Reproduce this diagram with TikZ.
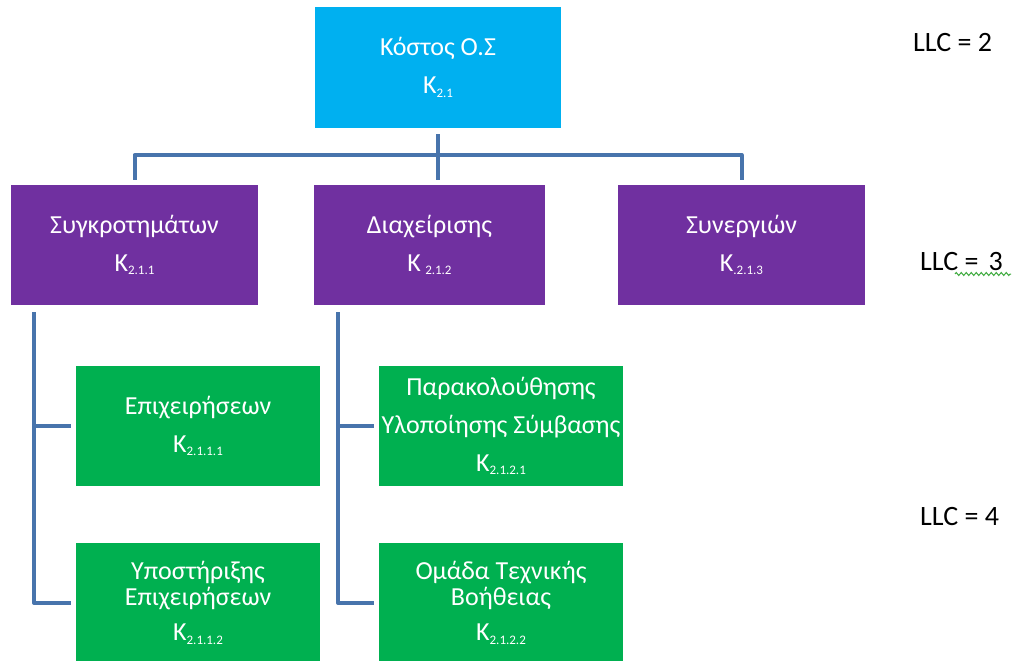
\documentclass[tikz,border=0pt]{standalone}
\usepackage{fontspec}
\setmainfont{Carlito}
\usetikzlibrary{decorations.pathmorphing}
\definecolor{topblue}{HTML}{00B0F0}
\definecolor{levpurple}{HTML}{7030A0}
\definecolor{levgreen}{HTML}{00B050}
\definecolor{linkblue}{HTML}{4874AC}
\definecolor{squiggle}{HTML}{3DAA3D}
% code with a small subscripted index
\newcommand{\Kcode}[1]{K\raisebox{-0.3ex}{\fontsize{13}{13}\selectfont #1}}
\begin{document}
\begin{tikzpicture}[x=1pt,y=-1pt,
  box/.style={rectangle, inner sep=0pt, minimum height=120pt, text=white,
    align=center, font=\fontsize{26}{38}\selectfont},
  topbox/.style={box, fill=topblue, minimum width=246pt, minimum height=121pt},
  midbox/.style={box, fill=levpurple},
  leafbox/.style={box, fill=levgreen, minimum width=244pt},
  tightbox/.style={leafbox, font=\fontsize{26}{26}\selectfont},
  conn/.style={draw=linkblue, line width=4pt, line join=round},
  level/.style={font=\fontsize{28}{30}\selectfont, text=black, inner sep=0pt}]
\useasboundingbox (0,0) rectangle (1015,661);
\clip (0,0) rectangle (1015,661);

% boxes
\node[topbox] (t) at (438,67.5) {Κόστος Ο.Σ\\\Kcode{2.1}};
\node[midbox, minimum width=247pt] (p1) at (134.5,245) {Συγκροτημάτων\\\Kcode{2.1.1}};
\node[midbox, minimum width=231pt] (p2) at (429.5,245) {Διαχείρισης\\K\,\raisebox{-0.3ex}{\fontsize{13}{13}\selectfont 2.1.2}};
\node[midbox, minimum width=247pt] (p3) at (741.5,245) {Συνεργιών\\\Kcode{.2.1.3}};
\node[leafbox] (g1) at (198,426) {Επιχειρήσεων\\\Kcode{2.1.1.1}};
\node[leafbox] (g2) at (501,426) {Παρακολούθησης\\Υλοποίησης Σύμβασης\\\Kcode{2.1.2.1}};
\node[tightbox] (g3) at (198,603) {Υποστήριξης\\Επιχειρήσεων\\[9pt]\Kcode{2.1.1.2}};
\node[tightbox] (g4) at (501,603) {Ομάδα Τεχνικής\\Βοήθειας\\[9pt]\Kcode{2.1.2.2}};

% level labels
\node[level, anchor=west] (l2) at (913,43) {LLC = 2};
\node[level, anchor=west] (l3) at (920,262) {LLC =\kern10pt 3};
\node[level, anchor=west] (l4) at (920,517) {LLC = 4};
\coordinate (sqA) at (955,274);
\coordinate (sqB) at (1011,274);
\draw[squiggle, line width=1pt, decorate,
  decoration={zigzag, segment length=5pt, amplitude=1.5pt}] (sqA) -- (sqB);

% top-level connectors
\coordinate (bus) at (0,155);
\draw[conn] ([yshift=-6pt]t.south) -- ([yshift=5pt]t.south |- p2.north);
\draw[conn] ([yshift=5pt]p1.north) -- (p1.north |- bus) -- (p3.north |- bus)
  -- ([yshift=5pt]p3.north);

% branch connectors
\coordinate (s1) at (34,0);
\coordinate (s2) at (338,0);
\draw[conn] ([yshift=-7pt]s1 |- p1.south) -- (s1 |- g3.west) -- ([xshift=-5pt]g3.west);
\draw[conn] (s1 |- g1.west) -- ([xshift=-5pt]g1.west);
\draw[conn] ([yshift=-7pt]s2 |- p2.south) -- (s2 |- g4.west) -- ([xshift=-5pt]g4.west);
\draw[conn] (s2 |- g2.west) -- ([xshift=-5pt]g2.west);
\end{tikzpicture}
\end{document}
